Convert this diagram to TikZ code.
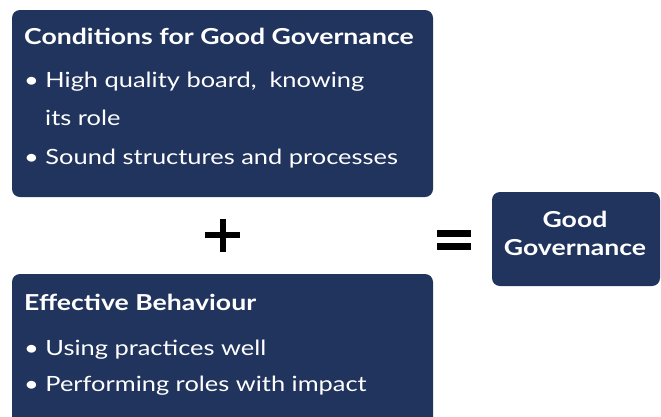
\documentclass[tikz,border=0pt]{standalone}
\usepackage{fontspec}
\setmainfont{Lato}[FakeStretch=1.21]
\definecolor{navy}{RGB}{33,52,94}
\begin{document}
\begin{tikzpicture}[x=1pt,y=-1pt,
  panel/.style={fill=navy,rounded corners=8pt,inner sep=0pt},
  heading/.style={anchor=base west,text=white,font=\fontsize{22}{26}\selectfont\bfseries,inner sep=0pt},
  item/.style={anchor=base west,text=white,font=\fontsize{21}{25}\selectfont,inner sep=0pt},
  result/.style={anchor=base,text=white,font=\fontsize{22}{26}\selectfont\bfseries,inner sep=0pt},
  sign/.style={fill=black}]
  \useasboundingbox (0,0) rectangle (661,416);
  \clip (0,0) rectangle (661,416);

  % panels
  \fill[panel] (12,10) rectangle (433,197);
  \fill[panel] (12,274) rectangle (433,440);
  \fill[panel] (492,192) rectangle (660,286);

  % conditions panel
  \node[heading] (condTitle) at (24,44) {Conditions for Good Governance};
  \node[item] (condA) at (24,87) {\textbullet\ High quality board,\ \ knowing};
  \node[item] (condB) at (45,125) {its role};
  \node[item] (condC) at (24,164) {\textbullet\ Sound structures and processes};

  % behaviour panel
  \node[heading] (behTitle) at (24,310) {Effective Behaviour};
  \node[item] (behA) at (24,355) {\textbullet\ Using practices well};
  \node[item] (behB) at (24,391) {\textbullet\ Performing roles with impact};

  % outcome panel
  \node[result] (outcomeA) at (575,227) {Good};
  \node[result] (outcomeB) at (575,255) {Governance};

  % plus sign
  \fill[sign] (205,232) rectangle (240,238);
  \fill[sign] (219.5,219) rectangle (225.5,252);
  % equals sign
  \fill[sign] (437,230) rectangle (471,237);
  \fill[sign] (437,243) rectangle (471,250);
\end{tikzpicture}
\end{document}
